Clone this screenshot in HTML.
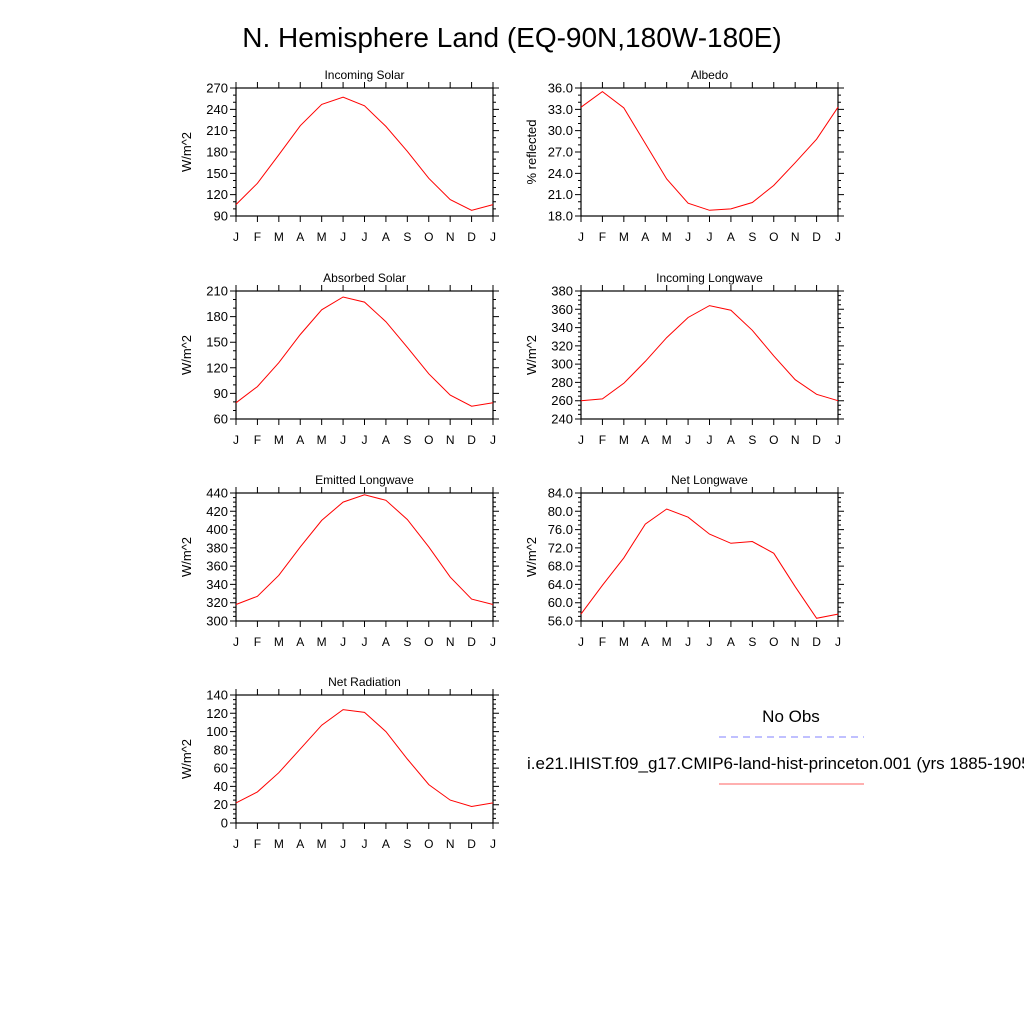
<!DOCTYPE html>
<html><head><meta charset="utf-8"><style>
html,body{margin:0;padding:0;background:#fff;overflow:hidden}
svg{display:block;font-family:"Liberation Sans",sans-serif}
</style></head><body>
<svg id="c" width="1024" height="1024" viewBox="0 0 1024 1024">
<text x="512" y="47" font-size="28" text-anchor="middle">N. Hemisphere Land (EQ-90N,180W-180E)</text>
<g>
<text x="791" y="722" font-size="17" text-anchor="middle">No Obs</text>
<line x1="719" y1="737" x2="864" y2="737" stroke="#8080ff" stroke-width="1" stroke-dasharray="7,5"/>
<text x="527" y="769" font-size="17">i.e21.IHIST.f09_g17.CMIP6-land-hist-princeton.001 (yrs 1885-1905)</text>
<line x1="719" y1="784" x2="864" y2="784" stroke="#ff6060" stroke-width="1"/>
</g>
</svg>
<script>
const months = ["J","F","M","A","M","J","J","A","S","O","N","D","J"];
const incomingSolar = [106,136,176,217,247,257,245,216,181,143,113,98,106];
const albedo = [33.3,35.5,33.2,28.2,23.2,19.8,18.8,19.0,19.9,22.3,25.5,28.8,33.3];
const absorbedSolar = [79,98,126,159,188,203,197,174,144,113,88,75,79];
const incomingLW = [260,262,279,303,329,351,364,359,337,309,283,267,260];
const emittedLW = [318,327,350,381,410,430,438,432,411,381,348,324,318];
const netLW = [57.5,63.8,69.8,77.2,80.5,78.7,75.0,73.0,73.4,70.8,63.5,56.6,57.5];
const netRad = [22,34,55,81,107,124,121,100,70,42,25,18,22];

const panels = [
 {name:"incoming-solar",title:"Incoming Solar",yl:"W/m^2",data:incomingSolar,min:90,max:270,step:30,minor:10,dec:0,x:236,y:88},
 {name:"albedo",title:"Albedo",yl:"% reflected",data:albedo,min:18,max:36,step:3,minor:1,dec:1,x:581,y:88},
 {name:"absorbed-solar",title:"Absorbed Solar",yl:"W/m^2",data:absorbedSolar,min:60,max:210,step:30,minor:10,dec:0,x:236,y:291},
 {name:"incoming-longwave",title:"Incoming Longwave",yl:"W/m^2",data:incomingLW,min:240,max:380,step:20,minor:5,dec:0,x:581,y:291},
 {name:"emitted-longwave",title:"Emitted Longwave",yl:"W/m^2",data:emittedLW,min:300,max:440,step:20,minor:5,dec:0,x:236,y:493},
 {name:"net-longwave",title:"Net Longwave",yl:"W/m^2",data:netLW,min:56,max:84,step:4,minor:1,dec:1,x:581,y:493},
 {name:"net-radiation",title:"Net Radiation",yl:"W/m^2",data:netRad,min:0,max:140,step:20,minor:5,dec:0,x:236,y:695}
];
const W=257,H=128,NS="http://www.w3.org/2000/svg";
const svg=document.getElementById("c");
function mk(t,a,p){const e=document.createElementNS(NS,t);for(const k in a)e.setAttribute(k,a[k]);(p||svg).appendChild(e);return e;}
panels.forEach(P=>{
 const g=mk("g",{});
 
 
 const xs=i=>P.x+i*W/(months.length-1);
 const ys=v=>P.y+H-(v-P.min)/(P.max-P.min)*H;
 const t=mk("text",{x:P.x+W/2,y:P.y-9,"font-size":12,"text-anchor":"middle"},g);t.textContent=P.title;
 
 
 const yl=mk("text",{x:0,y:0,"font-size":13,"text-anchor":"middle",transform:`translate(${P.x-45},${P.y+H/2}) rotate(-90)`},g);yl.textContent=P.yl;
 
 
 let d="";
 months.forEach((m,i)=>{const x=xs(i);
  d+=`M${x} ${P.y}v-6M${x} ${P.y+H}v6`;
  const lt=mk("text",{x:x,y:P.y+H+25,"font-size":12,"text-anchor":"middle"},g);lt.textContent=m;
  
  
 });
 for(let v=P.min;v<=P.max+1e-9;v+=P.minor){const y=ys(v);d+=`M${P.x} ${y}h-3M${P.x+W} ${y}h3`;}
 for(let v=P.min;v<=P.max+1e-9;v+=P.step){const y=ys(v);d+=`M${P.x} ${y}h-6M${P.x+W} ${y}h6`;
  const lt=mk("text",{x:P.x-8,y:y+4.5,"font-size":13,"text-anchor":"end"},g);lt.textContent=v.toFixed(P.dec);
  
  
 }
 const tk=mk("path",{d:d,stroke:"#000","stroke-width":1,fill:"none"},g);
 
 
 const fr=mk("rect",{x:P.x,y:P.y,width:W,height:H,fill:"none",stroke:"#000","stroke-width":1.2},g);
 
 
 const pts=P.data.map((v,i)=>xs(i).toFixed(1)+","+ys(v).toFixed(1)).join(" ");
 const ln=mk("polyline",{points:pts,fill:"none",stroke:"#ff0000","stroke-width":1},g);
 
 
});
</script>
</body></html>
